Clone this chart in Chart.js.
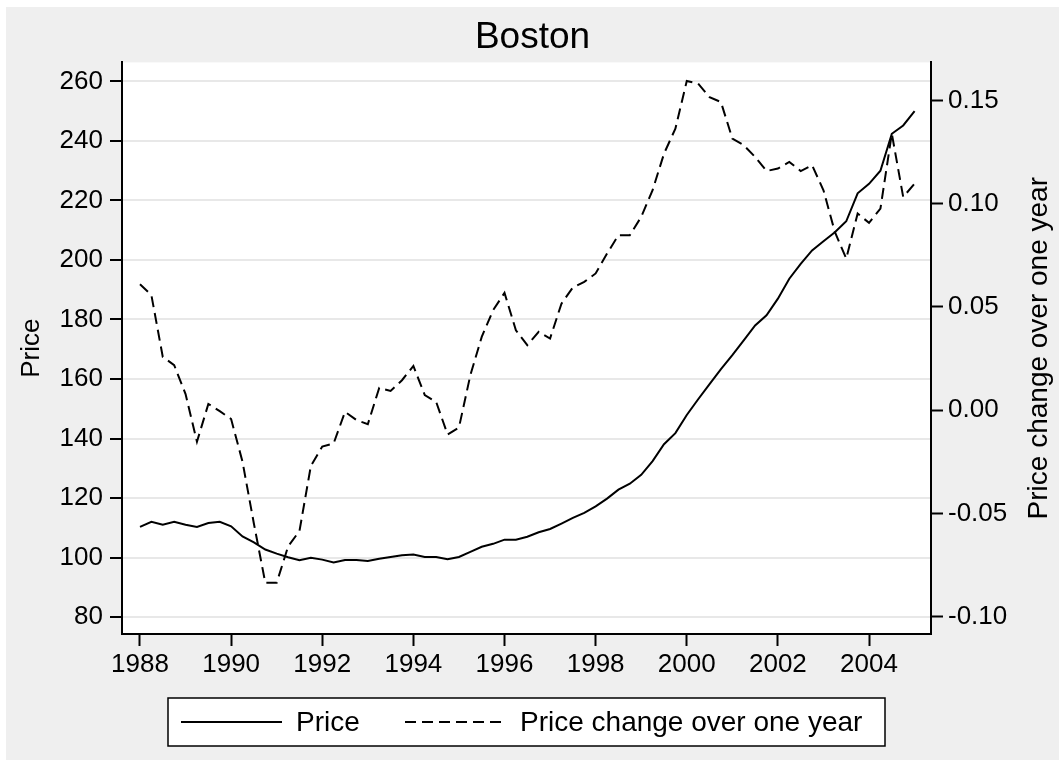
<!DOCTYPE html>
<html>
<head>
<meta charset="utf-8">
<title>Boston</title>
<script src="https://cdn.jsdelivr.net/npm/chart.js@4.4.0/dist/chart.umd.min.js"></script>
<style>
  html, body { margin: 0; padding: 0; background: #fff; }
</style>
</head>
<body>
<canvas id="bostonChart" width="1059" height="760"></canvas>
<script>
// quarterly data, first point is 1988Q1
const startYear = 1988;
const seriesLabels = ["Price", "Price change over one year"];

const price = [
  110.3, 112.0, 111.0, 112.0,
  111.0, 110.3, 111.6, 112.0,
  110.5, 107.1, 105.1, 102.7,
  101.3, 100.1, 99.1, 99.9,
  99.3, 98.3, 99.2, 99.2,
  98.8, 99.6, 100.2, 100.8,
  101.0, 100.2, 100.2, 99.4,
  100.2, 101.9, 103.6, 104.6,
  106.0, 106.0, 107.0, 108.5,
  109.6, 111.4, 113.3, 115.0,
  117.2, 119.8, 122.8, 124.8,
  127.8, 132.4, 138.1, 141.8,
  147.9, 153.2, 158.3, 163.3,
  168.0, 173.0, 178.0, 181.4,
  187.0, 193.7, 198.7, 203.2,
  206.3, 209.3, 213.0, 222.4,
  225.6, 230.0, 242.4, 245.2,
  250.0
];

const priceChange = [
  0.061, 0.0557, 0.0258, 0.0218,
  0.0078, -0.0153, 0.003, -0.0005,
  -0.0043, -0.025, -0.055, -0.0836,
  -0.0836, -0.066, -0.0585, -0.027,
  -0.0176, -0.0161, -0.0008, -0.0048,
  -0.0068, 0.0108, 0.0093, 0.0145,
  0.0214, 0.0073, 0.004, -0.0118,
  -0.0084, 0.0169, 0.0355, 0.0484,
  0.0568, 0.0387, 0.0315, 0.0379,
  0.0347, 0.0516, 0.0594, 0.0621,
  0.0662, 0.0758, 0.0847, 0.0847,
  0.0936, 0.1065, 0.1242, 0.1363,
  0.1594, 0.1581, 0.1516, 0.1492,
  0.1315, 0.1283, 0.1226, 0.1158,
  0.117, 0.1202, 0.1158, 0.1186,
  0.1065, 0.0863, 0.0734, 0.0952,
  0.0907, 0.0976, 0.1339, 0.1032,
  0.1097
];

const yearTicks = [1988, 1990, 1992, 1994, 1996, 1998, 2000, 2002, 2004];
const priceTicks = [80, 100, 120, 140, 160, 180, 200, 220, 240, 260];
const changeTicks = [-0.10, -0.05, 0.00, 0.05, 0.10, 0.15];

const FONT = '"Liberation Sans", Arial, Helvetica, sans-serif';
Chart.defaults.font.family = FONT;
Chart.defaults.color = "#000";

const quarters = price.map((_, i) => startYear + i / 4);
const priceDash = [];
const changeDash = [11, 6];

// gray page, white plot region
const background = {
  id: "background",
  beforeDraw(chart) {
    const c = chart.ctx;
    const a = chart.chartArea;
    c.save();
    c.fillStyle = "#fff";
    c.fillRect(0, 0, chart.width, chart.height);
    c.fillStyle = "#efefef";
    c.fillRect(6, 7, chart.width - 6, chart.height - 7);
    c.fillStyle = "#fff";
    c.fillRect(a.left, a.top, a.right - a.left, a.bottom - a.top);
    c.restore();
  }
};

// right axis title reads bottom-to-top, and the boxed legend
const extras = {
  id: "extras",
  afterDraw(chart) {
    const c = chart.ctx;
    const a = chart.chartArea;
    c.save();
    c.fillStyle = "#000";
    c.font = "28px " + FONT;
    c.textAlign = "center";
    c.textBaseline = "middle";
    c.translate(1039, (a.top + a.bottom) / 2);
    c.rotate(-Math.PI / 2);
    c.fillText(seriesLabels[1], 0, 0);
    c.restore();

    // legend box
    const box = { left: 168, top: 698, right: 885, bottom: 746 };
    const midY = (box.top + box.bottom) / 2;
    c.save();
    c.fillStyle = "#fff";
    c.fillRect(box.left, box.top, box.right - box.left, box.bottom - box.top);
    c.strokeStyle = "#000";
    c.lineWidth = 1.5;
    c.strokeRect(box.left, box.top, box.right - box.left, box.bottom - box.top);

    const items = [
      { x0: 181, x1: 282, tx: 296, dash: priceDash, label: chart.data.datasets[0].label },
      { x0: 405, x1: 506, tx: 520, dash: changeDash, label: chart.data.datasets[1].label }
    ];
    c.font = "28px " + FONT;
    c.textAlign = "left";
    c.textBaseline = "middle";
    items.forEach(it => {
      c.beginPath();
      c.setLineDash(it.dash);
      c.lineWidth = 2;
      c.moveTo(it.x0, midY);
      c.lineTo(it.x1, midY);
      c.stroke();
      c.setLineDash([]);
      c.fillStyle = "#000";
      c.fillText(it.label, it.tx, midY + 1);
    });
    c.restore();
  }
};

const ctx = document.getElementById("bostonChart").getContext("2d");

new Chart(ctx, {
  type: "line",
  data: {
    datasets: [
      {
        label: seriesLabels[0],
        data: quarters.map((q, i) => ({ x: q, y: price[i] })),
        yAxisID: "y",
        borderColor: "#000",
        borderWidth: 2,
        borderDash: priceDash,
        pointRadius: 0,
        tension: 0,
        fill: false
      },
      {
        label: seriesLabels[1],
        data: quarters.map((q, i) => ({ x: q, y: priceChange[i] })),
        yAxisID: "y1",
        borderColor: "#000",
        borderWidth: 2,
        borderDash: changeDash,
        pointRadius: 0,
        tension: 0,
        fill: false
      }
    ]
  },
  options: {
    responsive: false,
    animation: false,
    layout: { padding: { top: 7, left: 6, right: 0, bottom: 0 } },
    plugins: {
      legend: { display: false },
      tooltip: { enabled: false },
      title: {
        display: true,
        text: "Boston",
        color: "#000",
        font: { size: 37, weight: "normal" },
        padding: { top: 9, bottom: 2 }
      }
    },
    scales: {
      x: {
        type: "linear",
        min: 1987.605,
        max: 2005.36,
        afterBuildTicks: s => { s.ticks = yearTicks.map(v => ({ value: v })); },
        afterFit: s => { s.height = 126; },
        ticks: {
          callback: v => String(v),
          font: { size: 26 },
          padding: 3,
          maxRotation: 0,
          autoSkip: false
        },
        grid: { drawOnChartArea: false, tickLength: 12, tickColor: "#000", tickWidth: 2 },
        border: { color: "#000", width: 2 }
      },
      y: {
        position: "left",
        min: 74.3,
        max: 266.4,
        afterBuildTicks: s => { s.ticks = priceTicks.map(v => ({ value: v })); },
        afterFit: s => { s.width = 116; },
        ticks: { font: { size: 26 }, padding: 7 },
        grid: { color: "#e8e8e8", lineWidth: 2, tickColor: "#000", tickLength: 12, tickWidth: 2 },
        border: { color: "#000", width: 2 },
        title: {
          display: true,
          text: seriesLabels[0],
          font: { size: 26 },
          padding: { top: 10, bottom: 0 }
        }
      },
      y1: {
        position: "right",
        min: -0.1084,
        max: 0.1684,
        afterBuildTicks: s => { s.ticks = changeTicks.map(v => ({ value: v })); },
        afterFit: s => { s.width = 128; },
        ticks: { font: { size: 26 }, padding: 5, callback: v => v.toFixed(2) },
        grid: { drawOnChartArea: false, tickColor: "#000", tickLength: 12, tickWidth: 2 },
        border: { color: "#000", width: 2 }
      }
    }
  },
  plugins: [background, extras]
});
</script>
</body>
</html>
